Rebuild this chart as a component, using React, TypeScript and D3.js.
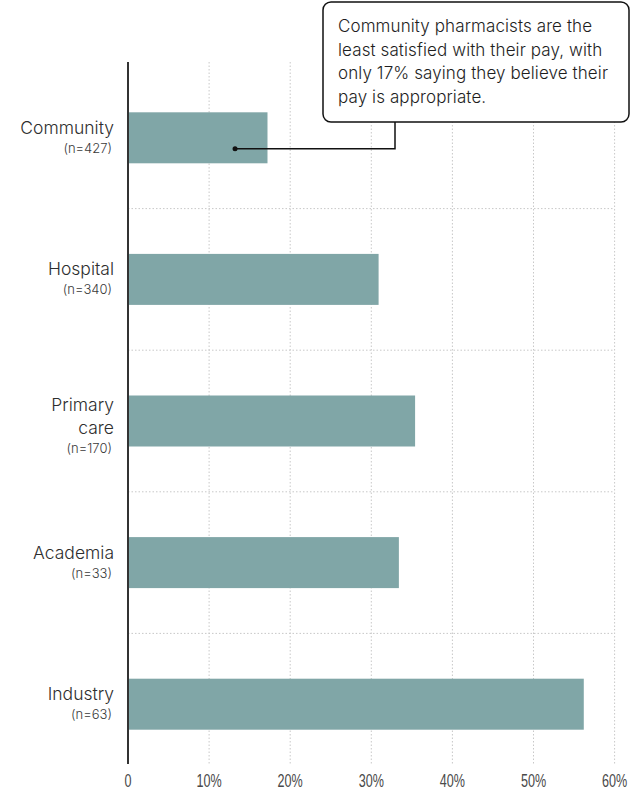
import React, { useRef, useEffect } from 'react';
import * as d3 from 'd3';

const categories = ['Community', 'Hospital', 'Primary care', 'Academia', 'Industry'];
const labelLines = [['Community'], ['Hospital'], ['Primary', 'care'], ['Academia'], ['Industry']];
const sampleSizes = ['(n=427)', '(n=340)', '(n=170)', '(n=33)', '(n=63)'];
const values = [17.2, 30.9, 35.4, 33.4, 56.2];
const ticks = [0, 10, 20, 30, 40, 50, 60];
const tickLabels = ['0', '10%', '20%', '30%', '40%', '50%', '60%'];
const noteLines = [
  'Community pharmacists are the',
  'least satisfied with their pay, with',
  'only 17% saying they believe their',
  'pay is appropriate.',
];
const notePoint = 13.2; // where the callout dot sits on the community bar

const App: React.FC = () => {
  const svgRef = useRef<SVGSVGElement>(null);

  useEffect(() => {
    if (!svgRef.current) return;
    const width = 631;
    const height = 792;
    const margin = { left: 128, right: 16, top: 62, bottom: 28 };

    const svg = d3.select(svgRef.current)
      .attr('width', width)
      .attr('height', height);
    svg.selectAll('*').remove();

    const x = d3.scaleLinear().domain([0, 60]).range([margin.left, 614.6]);
    const y = d3.scaleBand<string>().domain(categories).range([67, 775]).padding(0);
    const barH = 51;
    const yBottom = height - margin.bottom;

    // vertical dotted grid
    svg.append('g')
      .selectAll('line')
      .data(ticks.slice(1))
      .enter()
      .append('line')
      .attr('x1', d => x(d))
      .attr('x2', d => x(d))
      .attr('y1', margin.top)
      .attr('y2', yBottom)
      .attr('stroke', '#c8c8c8')
      .attr('stroke-width', 1)
      .attr('stroke-dasharray', '1.5,2');

    // dotted separators between categories
    svg.append('g')
      .selectAll('line')
      .data(categories.slice(1))
      .enter()
      .append('line')
      .attr('x1', x(0))
      .attr('x2', x(60))
      .attr('y1', d => y(d) as number)
      .attr('y2', d => y(d) as number)
      .attr('stroke', '#c8c8c8')
      .attr('stroke-width', 1)
      .attr('stroke-dasharray', '1.5,2');

    // bars
    svg.append('g')
      .selectAll('rect')
      .data(categories)
      .enter()
      .append('rect')
      .attr('x', x(0))
      .attr('y', d => (y(d) as number) + y.bandwidth() / 2 - barH / 2)
      .attr('width', (d, i) => x(values[i]) - x(0))
      .attr('height', barH)
      .attr('fill', '#80a6a7');

    // zero axis
    svg.append('line')
      .attr('x1', x(0))
      .attr('x2', x(0))
      .attr('y1', margin.top)
      .attr('y2', yBottom)
      .attr('stroke', '#333')
      .attr('stroke-width', 2);

    // x tick labels (condensed)
    svg.append('g')
      .selectAll('text')
      .data(ticks)
      .enter()
      .append('text')
      .attr('transform', d => `translate(${x(d)},787) scale(0.7,1)`)
      .attr('text-anchor', 'middle')
      .attr('font-family', '"Liberation Sans Narrow", "Liberation Sans", sans-serif')
      .attr('font-size', 18)
      .attr('fill', '#4a4a4a')
      .text((d, i) => tickLabels[i]);

    // category labels
    const labels = svg.append('g')
      .attr('font-family', 'Inter, "Noto Sans", sans-serif')
      .attr('text-anchor', 'end');
    categories.forEach((c, i) => {
      const cy = (y(c) as number) + y.bandwidth() / 2;
      const lines = labelLines[i];
      const first = cy - 4 - (lines.length - 1) * 6.5;
      lines.forEach((t, j) => {
        labels.append('text')
          .attr('x', 114)
          .attr('y', first + j * 23)
          .attr('font-size', 17.5)
          .attr('font-weight', 300)
          .attr('fill', '#2e2e2e')
          .text(t);
      });
      labels.append('text')
        .attr('x', 112)
        .attr('y', first + (lines.length - 1) * 23 + 19)
        .attr('font-size', 13)
        .attr('font-weight', 300)
        .attr('fill', '#3a3a3a')
        .text(sampleSizes[i]);
    });

    // callout
    const dotY = (y(categories[0]) as number) + y.bandwidth() / 2 + 11;
    const boxX = 323;
    const boxBottom = 122;
    const elbowX = 395;
    svg.append('path')
      .attr('d', `M${x(notePoint)},${dotY}H${elbowX}V${boxBottom}`)
      .attr('fill', 'none')
      .attr('stroke', '#111')
      .attr('stroke-width', 1.5);
    svg.append('circle')
      .attr('cx', x(notePoint))
      .attr('cy', dotY)
      .attr('r', 2.5)
      .attr('fill', '#111');
    svg.append('rect')
      .attr('x', boxX)
      .attr('y', 2)
      .attr('width', 629 - boxX)
      .attr('height', boxBottom - 2)
      .attr('rx', 8)
      .attr('fill', '#fff')
      .attr('stroke', '#111')
      .attr('stroke-width', 1.5);
    svg.append('g')
      .selectAll('text')
      .data(noteLines)
      .enter()
      .append('text')
      .attr('x', 338)
      .attr('y', (d, i) => 32 + i * 23.7)
      .attr('font-family', 'Inter, "Noto Sans", sans-serif')
      .attr('font-size', 17)
      .attr('font-weight', 300)
      .attr('letter-spacing', 0.1)
      .attr('fill', '#1e1e1e')
      .text(d => d);
  }, []);

  return (
    <div style={{ position: 'absolute', left: 0, top: 0 }}>
      <svg ref={svgRef} style={{ display: 'block' }} />
    </div>
  );
};

export default App;
